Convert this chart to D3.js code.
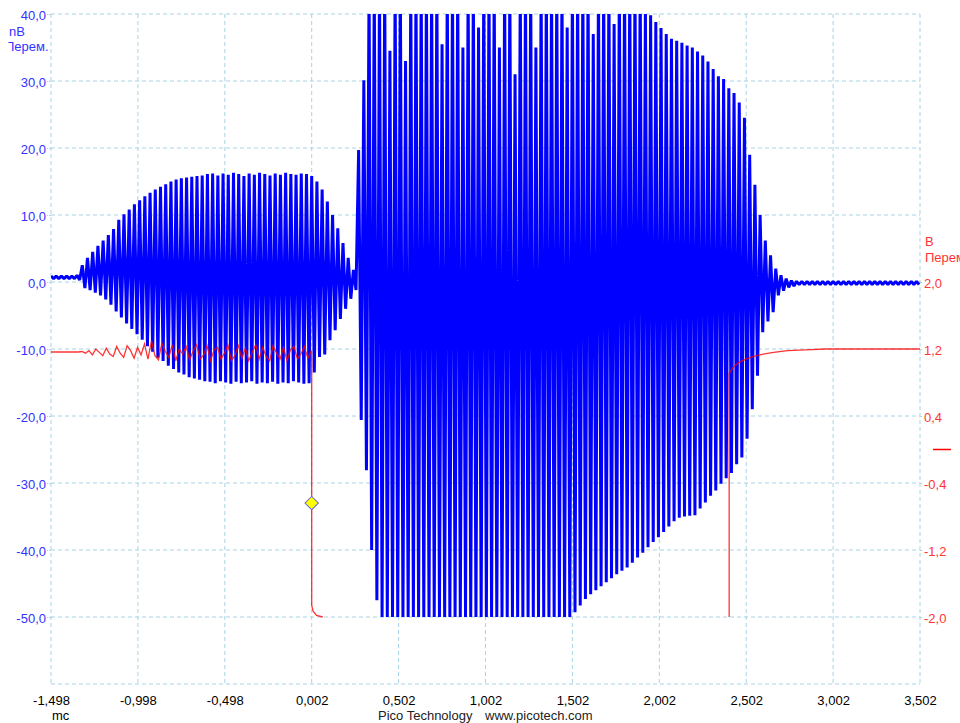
<html>
<head>
<meta charset='utf-8' />
<title>Pico Technology</title>
<script src="https://cdn.jsdelivr.net/npm/d3@7"></script>
<style>
body { margin: 0; background: #ffffff; }
text { font-family: "Liberation Sans", Arial, sans-serif; font-size: 13px; }
.grid line { stroke: #a8d4e6; stroke-width: 1; stroke-dasharray: 4,3; }
</style>
</head>
<body>
<script>

// ticks
var xTicks = [-1.498, -0.998, -0.498, 0.002, 0.502, 1.002, 1.502, 2.002, 2.502, 3.002, 3.502];
var leftTicks = [40, 30, 20, 10, 0, -10, -20, -30, -40, -50];
var rightTicks = [2.0, 1.2, 0.4, -0.4, -1.2, -2.0];

// channel A (blue, mV) - one peak/trough per cycle
var blueStart = -1.498;
var blueCycle = 0.03;
var blueHi = [
 0.9,0.9,0.9,0.9,0.9,1.0,2.5,3.6,4.5,5.4,
 6.2,7.0,7.9,9.3,10.1,10.8,11.6,12.2,12.8,13.3,
 13.8,14.2,14.6,15.0,15.3,15.5,15.6,15.7,15.8,15.9,
 16.1,16.2,15.9,16.2,16.0,16.3,16.1,15.8,16.2,16.0,
 16.3,16.1,15.9,16.2,16.0,16.3,16.1,16.0,16.2,16.1,
 15.8,15.0,13.8,12.0,10.0,8.0,5.8,3.6,1.8,19.7,
 30.1,44,45,45,45,34.5,45,45,33,45,
 45,45,45,45,45,35.5,45,45,45,35,
 45,45,38,45,45,45,35,45,45,31,
 45,45,45,35,45,45,45,45,45,38,
 45,45,45,45,37,45,45,45,38.5,45,
 45,45,45,45,41,39.8,38.8,37.9,37.0,36.3,
 36.0,35.7,35.3,35.0,34.4,33.8,32.9,31.8,30.7,30.3,
 28.9,28.2,26.8,24.5,19.0,14.5,10.0,6.2,4.0,2.0,
 1.0,0.5,0.2,0.1,0.1,0.1,0.1,0.1,0.1,0.1,
 0.1,0.1,0.1,0.1,0.1,0.1,0.1,0.1,0.1,0.1,
 0.1,0.1,0.1,0.1,0.1,0.1,0.1
];
var blueLo = [
 0.5,0.5,0.5,0.5,0.5,0.3,-0.9,-1.2,-1.6,-2.0,
 -2.6,-3.4,-4.4,-5.3,-6.2,-7.0,-7.8,-8.6,-9.6,-10.4,
 -11.3,-11.8,-12.5,-13.0,-13.5,-13.8,-14.2,-14.4,-14.6,-14.8,
 -14.9,-15.1,-14.8,-15.0,-15.2,-14.9,-15.1,-15.0,-14.8,-15.2,
 -15.0,-15.1,-14.9,-15.2,-15.0,-15.1,-14.8,-15.0,-15.2,-15.1,
 -13.5,-11.2,-10.8,-8.7,-7.2,-5.5,-4.0,-2.5,-1.2,-20.6,
 -28.1,-40.0,-47.5,-50,-50,-50,-50,-50,-50,-50,
 -50,-50,-50,-50,-50,-50,-50,-50,-50,-50,
 -50,-50,-50,-50,-50,-50,-50,-50,-50,-50,
 -50,-50,-50,-50,-50,-50,-50,-50,-50,-50,
 -49.3,-48.3,-47.3,-46.6,-46.0,-45.4,-44.8,-44.2,-43.6,-43.1,
 -42.6,-41.9,-41.1,-40.4,-39.6,-38.8,-38.1,-37.3,-36.5,-35.7,
 -35.2,-35.0,-34.9,-34.8,-33.8,-32.9,-31.9,-31.1,-30.1,-29.3,
 -28.5,-27.2,-26.2,-23.4,-19.0,-14.0,-7.5,-5.9,-4.5,-2.0,
 -1.3,-0.8,-0.6,-0.4,-0.4,-0.4,-0.4,-0.4,-0.4,-0.4,
 -0.4,-0.4,-0.4,-0.4,-0.4,-0.4,-0.4,-0.4,-0.4,-0.4,
 -0.4,-0.4,-0.4,-0.4,-0.4,-0.4,-0.4
];

// channel B (red, V)
var redFlatT = [-1.498, -1.34];
var redFlatV = [1.164, 1.164];
var redNoiseStart = -1.32;
var redNoiseStep = 0.02;
var redNoise = [
 1.17,1.15,1.18,1.13,1.20,1.16,1.12,1.21,1.14,1.11,
 1.23,1.15,1.10,1.24,1.18,1.09,1.22,1.13,1.26,1.08,
 1.30,1.12,1.07,1.27,1.17,1.10,1.25,1.06,1.20,1.14,
 1.23,1.07,1.18,1.25,1.08,1.13,1.24,1.06,1.19,1.22,
 1.08,1.15,1.25,1.06,1.12,1.24,1.09,1.21,1.06,1.16,
 1.25,1.08,1.22,1.11,1.06,1.24,1.15,1.08,1.22,1.06,
 1.19,1.23,1.08,1.14,1.23,1.09,1.18
];
var redDropT = [0.002, 0.002, 0.010, 0.030, 0.066];
var redDropV = [1.05, -1.86, -1.93, -1.98, -2.0];
var redRecT = [2.404, 2.404, 2.43, 2.46, 2.50, 2.54, 2.60, 2.66, 2.74, 2.84, 2.96, 3.20, 3.502];
var redRecV = [-2.0, 0.91, 0.99, 1.04, 1.08, 1.11, 1.14, 1.16, 1.18, 1.19, 1.20, 1.20, 1.20];

var triggerT = 0.002, triggerMv = -33.0;
var redZero = 0;

var W = 960, H = 723;
var plotL = 51, plotR = 920, plotT = 14, plotB = 684;

var svg = d3.select("body").append("svg").attr("width", W).attr("height", H);

var xScale = d3.scaleLinear().domain([-1.498, 3.502]).range([plotL, plotR]);
var yScale = d3.scaleLinear().domain([-60, 40]).range([plotB, plotT]);
var y2Scale = d3.scaleLinear().domain([-2.8, 5.2]).range([plotB, plotT]);

var comma = function(f) { return function(d) { return d3.format(f)(d).replace(".", ",").replace("−", "-"); }; };

// grid
var grid = svg.append("g").attr("class", "grid");
grid.selectAll(".h").data(leftTicks.concat([-60])).enter().append("line")
	.attr("x1", plotL).attr("x2", plotR)
	.attr("y1", d => yScale(d)).attr("y2", d => yScale(d));
grid.selectAll(".v").data(xTicks).enter().append("line")
	.attr("x1", d => xScale(d)).attr("x2", d => xScale(d))
	.attr("y1", plotT).attr("y2", plotB);

svg.append("clipPath").attr("id", "plot")
	.append("rect").attr("x", plotL).attr("y", plotT).attr("width", plotR - plotL).attr("height", plotB - plotT);

// blue trace
var bluePts = [];
blueHi.forEach(function(h, i) {
	var t = blueStart + i * blueCycle;
	bluePts.push([t, h]);
	bluePts.push([t + blueCycle / 2, blueLo[i]]);
});
var line = d3.line().x(d => xScale(d[0])).y(d => yScale(d[1]));
svg.append("path")
	.datum(bluePts)
	.attr("clip-path", "url(#plot)")
	.attr("fill", "none").attr("stroke", "#0000ff").attr("stroke-width", 3.0)
	.attr("stroke-linejoin", "bevel")
	.attr("d", line);

// red trace
var redPts = [];
redFlatT.forEach((t, i) => redPts.push([t, redFlatV[i]]));
redNoise.forEach((v, i) => redPts.push([redNoiseStart + i * redNoiseStep, v]));
redDropT.forEach((t, i) => redPts.push([t, redDropV[i]]));
var redPts2 = redRecT.map((t, i) => [t, redRecV[i]]);
var line2 = d3.line().x(d => xScale(d[0])).y(d => y2Scale(d[1]));
svg.selectAll(".red").data([redPts, redPts2]).enter().append("path")
	.attr("clip-path", "url(#plot)")
	.attr("fill", "none").attr("stroke", "#ff0000").attr("stroke-width", 1.3).attr("stroke-opacity", 0.8)
	.attr("d", line2);

// trigger marker
svg.append("path")
	.attr("transform", "translate(" + xScale(triggerT) + "," + yScale(triggerMv) + ") rotate(45)")
	.attr("d", d3.symbol(d3.symbolSquare, 90)())
	.attr("fill", "#ffff00").attr("stroke", "#6a6ad0").attr("stroke-width", 1);

// zero marker for channel B
svg.append("line")
	.attr("x1", 933).attr("x2", 951)
	.attr("y1", y2Scale(redZero)).attr("y2", y2Scale(redZero))
	.attr("stroke", "#ff0000").attr("stroke-width", 1.5);

// axes
var ax = svg.append("g").attr("transform", "translate(" + plotL + ",0)")
	.call(d3.axisLeft(yScale).tickValues(leftTicks).tickSize(4).tickPadding(1).tickFormat(comma(".1f")));
ax.select(".domain").remove();
ax.selectAll("line").attr("stroke", "#a8d4e6").attr("stroke-dasharray", "2,1");
ax.selectAll("text").attr("fill", "#3333ff").attr("dy", "0.42em").style("font-size", "13px").style("font-family", "Liberation Sans, Arial");

var ax2 = svg.append("g").attr("transform", "translate(" + plotR + ",0)")
	.call(d3.axisRight(y2Scale).tickValues(rightTicks).tickSize(3).tickPadding(1).tickFormat(comma(".1f")));
ax2.select(".domain").remove();
ax2.selectAll("line").attr("stroke", "#a8d4e6").attr("stroke-dasharray", "2,1");
ax2.selectAll("text").attr("fill", "#ff3333").attr("dy", "0.42em").style("font-size", "13px").style("font-family", "Liberation Sans, Arial");

var ax3 = svg.append("g").attr("transform", "translate(0," + plotB + ")")
	.call(d3.axisBottom(xScale).tickValues(xTicks).tickSize(0).tickPadding(12).tickFormat(comma(".3f")));
ax3.select(".domain").remove();
ax3.selectAll("text").attr("fill", "#000000").style("font-size", "13px").style("font-family", "Liberation Sans, Arial");

// units
svg.append("clipPath").attr("id", "lclip").append("rect").attr("x", 8.5).attr("y", 0).attr("width", 50).attr("height", 60);
var lu = svg.append("g").attr("clip-path", "url(#lclip)");
lu.append("text").attr("x", 9).attr("y", 36).attr("fill", "#3333ff").text("nВ");
lu.append("text").attr("x", 5).attr("y", 51).attr("fill", "#3333ff").text("Перем.");

svg.append("text").attr("x", 925).attr("y", 246).attr("fill", "#ff3333").text("В");
svg.append("text").attr("x", 925).attr("y", 262).attr("fill", "#ff3333").text("Перем");

svg.append("text").attr("x", 52).attr("y", 720).attr("fill", "#000").text("mc");
svg.append("text").attr("x", 378).attr("y", 720).attr("fill", "#222").text("Pico Technology");
svg.append("text").attr("x", 485).attr("y", 720).attr("fill", "#222").text("www.picotech.com");

</script>
</body>
</html>
